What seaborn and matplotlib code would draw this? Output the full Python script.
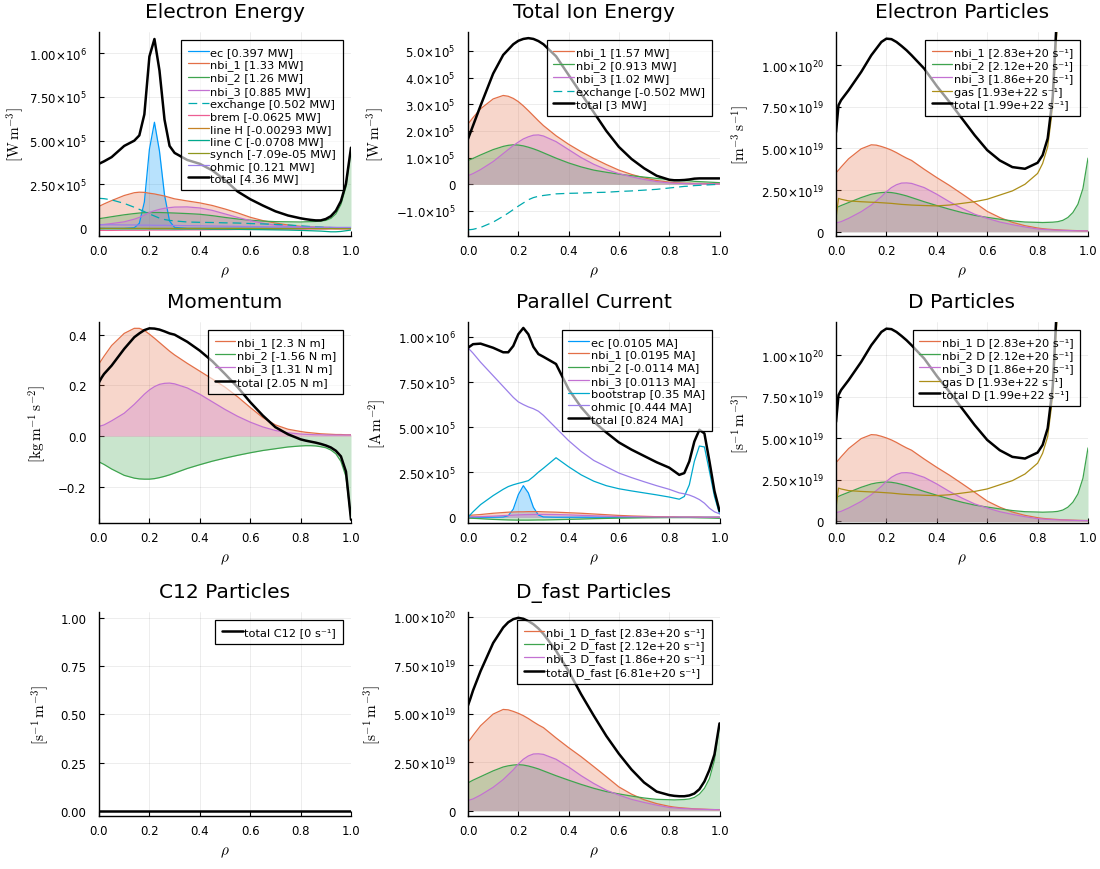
import numpy as np
import matplotlib
matplotlib.use("Agg")
import matplotlib.pyplot as plt
import seaborn as sns

# radial grid (rho) shared by all profiles
rho = np.array([0.0, 0.01, 0.02, 0.05, 0.1, 0.14, 0.16, 0.18, 0.2,
                0.22, 0.24, 0.26, 0.28, 0.3, 0.35, 0.4, 0.45, 0.5,
                0.55, 0.6, 0.65, 0.7, 0.75, 0.8, 0.82, 0.84, 0.86,
                0.88, 0.9, 0.92, 0.94, 0.96, 0.98, 1.0])

# ---- Electron energy [1e5 W m^-3]
ee_ec = np.array([0, 0, 0, 0, 0, 0.03, 0.28, 1.5, 4.5,
                  6.05, 4.4, 1.9, 0.41, 0.05, 0, 0, 0, 0,
                  0, 0, 0, 0, 0, 0, 0, 0, 0,
                  0, 0, 0, 0, 0, 0, 0]) * 1e5
ee_nbi1 = np.array([1.25, 1.32, 1.39, 1.58, 1.87, 2.03, 2.06, 2.05, 2.0,
                    1.96, 1.9, 1.84, 1.76, 1.68, 1.56, 1.45, 1.3, 1.1,
                    0.88, 0.63, 0.44, 0.3, 0.19, 0.11, 0.09, 0.08, 0.07,
                    0.06, 0.05, 0.04, 0.04, 0.03, 0.03, 0.02]) * 1e5
ee_nbi2 = np.array([0.55, 0.57, 0.59, 0.66, 0.77, 0.84, 0.87, 0.89, 0.9,
                    0.9, 0.9, 0.89, 0.88, 0.87, 0.84, 0.8, 0.72, 0.62,
                    0.53, 0.46, 0.41, 0.38, 0.37, 0.36, 0.37, 0.38, 0.39,
                    0.41, 0.45, 0.56, 0.82, 1.35, 2.35, 4.45]) * 1e5
ee_nbi3 = np.array([0.2, 0.21, 0.22, 0.27, 0.37, 0.52, 0.62, 0.75, 0.9,
                    1.0, 1.08, 1.14, 1.18, 1.21, 1.22, 1.16, 1.02, 0.82,
                    0.62, 0.44, 0.29, 0.18, 0.11, 0.06, 0.05, 0.04, 0.03,
                    0.03, 0.02, 0.02, 0.02, 0.01, 0.01, 0.01]) * 1e5
ee_exchange = np.array([1.71, 1.7, 1.69, 1.62, 1.42, 1.2, 1.08, 0.95, 0.82,
                        0.7, 0.58, 0.5, 0.45, 0.42, 0.36, 0.34, 0.33, 0.31,
                        0.3, 0.27, 0.25, 0.22, 0.19, 0.14, 0.12, 0.1, 0.08,
                        0.07, 0.05, 0.04, 0.03, 0.02, 0.01, 0.01]) * 1e5
ee_brem = np.array([-0.12, -0.12, -0.12, -0.12, -0.11, -0.11, -0.11, -0.11, -0.1,
                    -0.1, -0.1, -0.1, -0.1, -0.1, -0.09, -0.09, -0.08, -0.08,
                    -0.07, -0.07, -0.06, -0.06, -0.05, -0.05, -0.05, -0.04, -0.04,
                    -0.04, -0.04, -0.03, -0.03, -0.03, -0.03, -0.03]) * 1e5
ee_line_h = np.array([-0.01, -0.01, -0.01, -0.01, -0.01, -0.01, -0.01, -0.01, -0.01,
                      -0.01, -0.01, -0.01, -0.01, -0.01, -0.01, -0.01, -0.01, -0.01,
                      -0.01, -0.01, -0.01, -0.01, -0.01, -0.01, -0.01, -0.01, -0.02,
                      -0.02, -0.02, -0.02, -0.03, -0.03, -0.03, -0.03]) * 1e5
ee_line_c = np.array([-0.03, -0.03, -0.03, -0.03, -0.03, -0.03, -0.03, -0.03, -0.03,
                      -0.03, -0.03, -0.03, -0.03, -0.04, -0.04, -0.04, -0.05, -0.05,
                      -0.06, -0.07, -0.08, -0.09, -0.1, -0.12, -0.13, -0.14, -0.15,
                      -0.16, -0.18, -0.2, -0.2, -0.18, -0.14, -0.1]) * 1e5
ee_synch = np.array([-0.001, -0.001, -0.001, -0.001, -0.001, -0.001, -0.001, -0.001, -0.001,
                     -0.001, -0.001, -0.001, -0.001, -0.001, -0.001, -0.001, -0.001, -0.001,
                     -0.001, -0.001, -0.001, -0.001, -0.001, -0.001, -0.001, -0.001, -0.001,
                     -0.001, -0.001, -0.001, -0.001, -0.001, -0.001, -0.001]) * 1e5
ee_ohmic = np.array([0.2, 0.2, 0.2, 0.2, 0.19, 0.19, 0.18, 0.18, 0.18,
                     0.17, 0.17, 0.17, 0.16, 0.16, 0.15, 0.14, 0.13, 0.12,
                     0.11, 0.1, 0.09, 0.08, 0.08, 0.07, 0.07, 0.07, 0.06,
                     0.06, 0.06, 0.06, 0.05, 0.05, 0.05, 0.05]) * 1e5
ee_total = np.array([3.68, 3.75, 3.82, 4.06, 4.7, 5.0, 5.3, 6.5, 9.8,
                     10.8, 9.0, 6.2, 4.7, 4.3, 3.9, 3.68, 3.3, 2.75,
                     2.1, 1.66, 1.3, 0.97, 0.73, 0.57, 0.52, 0.48, 0.45,
                     0.45, 0.53, 0.69, 1.0, 1.55, 2.55, 4.6]) * 1e5

# ---- Total ion energy [1e5 W m^-3]
ie_nbi1 = np.array([2.26, 2.38, 2.5, 2.83, 3.2, 3.33, 3.3, 3.22, 3.1,
                    2.94, 2.76, 2.57, 2.38, 2.2, 1.82, 1.5, 1.22, 0.97,
                    0.74, 0.53, 0.37, 0.24, 0.14, 0.08, 0.06, 0.05, 0.04,
                    0.04, 0.03, 0.03, 0.03, 0.02, 0.02, 0.02]) * 1e5
ie_nbi2 = np.array([0.89, 0.93, 0.97, 1.1, 1.3, 1.42, 1.46, 1.48, 1.47,
                    1.44, 1.39, 1.33, 1.26, 1.18, 0.98, 0.8, 0.65, 0.53,
                    0.45, 0.38, 0.32, 0.27, 0.22, 0.18, 0.16, 0.15, 0.14,
                    0.13, 0.11, 0.1, 0.09, 0.08, 0.07, 0.06]) * 1e5
ie_nbi3 = np.array([0.33, 0.36, 0.4, 0.55, 0.85, 1.15, 1.3, 1.45, 1.58,
                    1.7, 1.78, 1.84, 1.85, 1.81, 1.6, 1.3, 1.0, 0.75,
                    0.55, 0.4, 0.28, 0.18, 0.1, 0.05, 0.04, 0.03, 0.03,
                    0.02, 0.02, 0.02, 0.01, 0.01, 0.01, 0.01]) * 1e5
ie_exchange = -ee_exchange
ie_total = np.array([1.7, 1.95, 2.2, 2.95, 4.15, 4.85, 5.05, 5.25, 5.38,
                     5.45, 5.48, 5.45, 5.37, 5.25, 4.8, 4.1, 3.4, 2.7,
                     2.0, 1.4, 0.95, 0.6, 0.32, 0.17, 0.15, 0.15, 0.16,
                     0.18, 0.21, 0.22, 0.22, 0.22, 0.22, 0.22]) * 1e5

# ---- Particle sources [1e19 m^-3 s^-1]
p_nbi1 = np.array([3.53, 3.7, 3.88, 4.38, 4.98, 5.22, 5.2, 5.12, 5.02,
                   4.9, 4.75, 4.58, 4.42, 4.28, 3.75, 3.25, 2.78, 2.27,
                   1.75, 1.22, 0.85, 0.56, 0.36, 0.22, 0.18, 0.15, 0.13,
                   0.11, 0.09, 0.08, 0.07, 0.06, 0.05, 0.05]) * 1e19
p_nbi2 = np.array([1.43, 1.5, 1.57, 1.75, 2.05, 2.25, 2.31, 2.35, 2.37,
                   2.35, 2.3, 2.23, 2.15, 2.05, 1.8, 1.57, 1.35, 1.15,
                   0.98, 0.86, 0.75, 0.65, 0.58, 0.56, 0.55, 0.56, 0.57,
                   0.6, 0.68, 0.85, 1.15, 1.65, 2.6, 4.42]) * 1e19
p_nbi3 = np.array([0.52, 0.56, 0.6, 0.8, 1.2, 1.6, 1.85, 2.1, 2.4,
                   2.65, 2.82, 2.92, 2.93, 2.9, 2.65, 2.25, 1.8, 1.4,
                   1.05, 0.8, 0.58, 0.42, 0.28, 0.16, 0.14, 0.12, 0.1,
                   0.09, 0.08, 0.07, 0.06, 0.05, 0.05, 0.04]) * 1e19
p_gas = np.array([0.8, 2.0, 1.95, 1.85, 1.8, 1.77, 1.76, 1.74, 1.72,
                  1.7, 1.67, 1.64, 1.62, 1.6, 1.57, 1.55, 1.6, 1.7,
                  1.8, 1.95, 2.2, 2.45, 2.85, 3.5, 4.1, 5.1, 7.5,
                  13, 25, 50, 100, 200, 400, 800]) * 1e19
p_total = np.array([5.98, 7.6, 7.9, 8.5, 9.6, 10.6, 11.0, 11.4, 11.6,
                    11.57, 11.4, 11.16, 10.9, 10.6, 9.8, 8.75, 7.8, 6.8,
                    5.8, 4.9, 4.28, 3.88, 3.78, 4.14, 4.6, 5.6, 8.1,
                    14, 26, 51, 101, 202, 403, 805]) * 1e19
pf_total = np.array([5.43, 5.8, 6.2, 7.2, 8.65, 9.45, 9.72, 9.88, 9.95,
                     9.9, 9.78, 9.62, 9.4, 9.12, 8.25, 7.2, 6.0, 4.9,
                     3.85, 2.93, 2.12, 1.45, 0.98, 0.8, 0.76, 0.74, 0.74,
                     0.78, 0.88, 1.1, 1.5, 2.1, 2.9, 4.5]) * 1e19
c12_total = np.array([0.0] * 34)

# ---- Momentum [kg m^-1 s^-2]
m_nbi1 = np.array([0.285, 0.3, 0.315, 0.357, 0.405, 0.425, 0.425, 0.417, 0.402,
                   0.386, 0.369, 0.352, 0.335, 0.32, 0.287, 0.256, 0.225, 0.193,
                   0.155, 0.113, 0.073, 0.044, 0.027, 0.018, 0.015, 0.013, 0.011,
                   0.009, 0.008, 0.007, 0.006, 0.006, 0.005, 0.005])
m_nbi2 = np.array([-0.102, -0.107, -0.112, -0.13, -0.155, -0.166, -0.169, -0.17, -0.17,
                   -0.168, -0.164, -0.159, -0.153, -0.146, -0.128, -0.113, -0.099, -0.087,
                   -0.076, -0.066, -0.057, -0.05, -0.043, -0.039, -0.038, -0.038, -0.039,
                   -0.042, -0.046, -0.055, -0.07, -0.1, -0.16, -0.33])
m_nbi3 = np.array([0.038, 0.041, 0.044, 0.06, 0.09, 0.125, 0.145, 0.165, 0.182,
                   0.195, 0.204, 0.208, 0.209, 0.206, 0.19, 0.165, 0.135, 0.105,
                   0.078, 0.055, 0.036, 0.022, 0.013, 0.008, 0.007, 0.006, 0.005,
                   0.005, 0.004, 0.004, 0.004, 0.004, 0.004, 0.004])
m_total = np.array([0.212, 0.23, 0.245, 0.278, 0.344, 0.39, 0.405, 0.418, 0.425,
                    0.424, 0.42, 0.413, 0.405, 0.4, 0.372, 0.337, 0.295, 0.245,
                    0.193, 0.134, 0.081, 0.035, 0.007, -0.013, -0.018, -0.022, -0.026,
                    -0.031, -0.037, -0.045, -0.058, -0.08, -0.14, -0.33])

# ---- Parallel current [1e5 A m^-2]
c_ec = np.array([0, 0, 0, 0, 0, 0.01, 0.08, 0.45, 1.25,
                 1.75, 1.35, 0.55, 0.12, 0.015, 0, 0, 0, 0,
                 0, 0, 0, 0, 0, 0, 0, 0, 0,
                 0, 0, 0, 0, 0, 0, 0]) * 1e5
c_nbi1 = np.array([0.1, 0.11, 0.12, 0.15, 0.22, 0.26, 0.28, 0.29, 0.3,
                   0.3, 0.31, 0.31, 0.31, 0.3, 0.28, 0.25, 0.22, 0.18,
                   0.14, 0.1, 0.07, 0.05, 0.03, 0.02, 0.02, 0.01, 0.01,
                   0.01, 0.01, 0.01, 0.0, 0.0, 0.0, 0.0]) * 1e5
c_nbi2 = np.array([-0.05, -0.055, -0.06, -0.08, -0.12, -0.14, -0.15, -0.155, -0.16,
                   -0.16, -0.16, -0.155, -0.15, -0.15, -0.135, -0.12, -0.1, -0.08,
                   -0.065, -0.05, -0.04, -0.03, -0.025, -0.02, -0.02, -0.02, -0.02,
                   -0.02, -0.025, -0.03, -0.035, -0.04, -0.05, -0.06]) * 1e5
c_nbi3 = np.array([0.02, 0.02, 0.025, 0.035, 0.06, 0.09, 0.1, 0.115, 0.13,
                   0.14, 0.15, 0.155, 0.16, 0.16, 0.15, 0.13, 0.105, 0.08,
                   0.06, 0.04, 0.03, 0.02, 0.015, 0.01, 0.01, 0.01, 0.005,
                   0.005, 0.005, 0.0, 0.0, 0.0, 0.0, 0.0]) * 1e5
c_boot = np.array([0.0, 0.15, 0.3, 0.7, 1.2, 1.55, 1.7, 1.8, 1.88,
                   1.95, 2.03, 2.25, 2.5, 2.72, 3.3, 2.8, 2.35, 2.0,
                   1.75, 1.58, 1.46, 1.35, 1.24, 1.12, 1.06, 1.0, 1.15,
                   1.8, 3.1, 3.95, 3.9, 2.55, 1.15, 0.19]) * 1e5
c_ohmic = np.array([9.39, 9.25, 9.1, 8.6, 7.85, 7.25, 6.95, 6.65, 6.4,
                    6.25, 6.12, 6.02, 5.88, 5.65, 4.95, 4.25, 3.65, 3.15,
                    2.8, 2.45, 2.2, 1.97, 1.75, 1.55, 1.45, 1.35, 1.3,
                    1.23, 1.12, 0.98, 0.78, 0.5, 0.3, 0.19]) * 1e5
c_total = np.array([9.4, 9.5, 9.6, 9.63, 9.4, 9.15, 9.15, 9.5, 10.15,
                    10.5, 10.15, 9.45, 9.05, 8.9, 8.5, 7.1, 6.1, 5.3,
                    4.7, 4.15, 3.75, 3.4, 3.05, 2.75, 2.55, 2.35, 2.45,
                    3.1, 4.2, 4.85, 4.65, 3.1, 1.45, 0.35]) * 1e5

# legend labels
ee_labels = ["ec [0.397 MW]", "nbi_1 [1.33 MW]", "nbi_2 [1.26 MW]", "nbi_3 [0.885 MW]",
             "exchange [0.502 MW]", "brem [-0.0625 MW]", "line H [-0.00293 MW]",
             "line C [-0.0708 MW]", "synch [-7.09e-05 MW]", "ohmic [0.121 MW]",
             "total [4.36 MW]"]
ie_labels = ["nbi_1 [1.57 MW]", "nbi_2 [0.913 MW]", "nbi_3 [1.02 MW]",
             "exchange [-0.502 MW]", "total [3 MW]"]
ep_labels = ["nbi_1 [2.83e+20 s⁻¹]", "nbi_2 [2.12e+20 s⁻¹]", "nbi_3 [1.86e+20 s⁻¹]",
             "gas [1.93e+22 s⁻¹]", "total [1.99e+22 s⁻¹]"]
m_labels = ["nbi_1 [2.3 N m]", "nbi_2 [-1.56 N m]", "nbi_3 [1.31 N m]", "total [2.05 N m]"]
c_labels = ["ec [0.0105 MA]", "nbi_1 [0.0195 MA]", "nbi_2 [-0.0114 MA]", "nbi_3 [0.0113 MA]",
            "bootstrap [0.35 MA]", "ohmic [0.444 MA]", "total [0.824 MA]"]
dp_labels = ["nbi_1 D [2.83e+20 s⁻¹]", "nbi_2 D [2.12e+20 s⁻¹]", "nbi_3 D [1.86e+20 s⁻¹]",
             "gas D [1.93e+22 s⁻¹]", "total D [1.99e+22 s⁻¹]"]
c12_labels = ["total C12 [0 s⁻¹]"]
df_labels = ["nbi_1 D_fast [2.83e+20 s⁻¹]", "nbi_2 D_fast [2.12e+20 s⁻¹]",
             "nbi_3 D_fast [1.86e+20 s⁻¹]", "total D_fast [6.81e+20 s⁻¹]"]

# tick positions and labels
tk_1e5_2p5 = [0, 2.5e5, 5e5, 7.5e5, 1e6]
tl_1e5_2p5 = ["0", r"$2.50{\times}10^{5}$", r"$5.00{\times}10^{5}$",
              r"$7.50{\times}10^{5}$", r"$1.00{\times}10^{6}$"]
tk_ion = [-1e5, 0, 1e5, 2e5, 3e5, 4e5, 5e5]
tl_ion = [r"$-1.0{\times}10^{5}$", "0", r"$1.0{\times}10^{5}$", r"$2.0{\times}10^{5}$",
          r"$3.0{\times}10^{5}$", r"$4.0{\times}10^{5}$", r"$5.0{\times}10^{5}$"]
tk_part = [0, 2.5e19, 5e19, 7.5e19, 1e20]
tl_part = ["0", r"$2.50{\times}10^{19}$", r"$5.00{\times}10^{19}$",
           r"$7.50{\times}10^{19}$", r"$1.00{\times}10^{20}$"]

# Plots.jl default palette
C_EC, C_N1, C_N2, C_N3 = "#009AFA", "#E36F47", "#3EA44E", "#C371D2"
C_GAS, C_EXC, C_BREM, C_LH = "#AC8E18", "#00AAAE", "#ED5E93", "#C68225"
C_LC, C_SYN, C_BS, C_OHM = "#00A98D", "#8E971D", "#00A9CD", "#9B7FE9"

sns.set_theme(style="white")
plt.rcParams["font.family"] = ["DejaVu Sans"]
plt.rcParams["axes.unicode_minus"] = True
plt.rcParams["text.color"] = "black"
plt.rcParams["axes.labelcolor"] = "black"
plt.rcParams["axes.titlecolor"] = "black"

fig = plt.figure(figsize=(11, 8.7), dpi=100)
W, H = 1100, 870


def panel(left, top, right, bottom):
    return fig.add_axes([left / W, 1 - bottom / H, (right - left) / W, (bottom - top) / H])


def draw(ax, y, color, label, fill=False, lw=0.9, ls="-"):
    if fill:
        ax.fill_between(rho, 0, y, color=color, alpha=0.28, lw=0)
    sns.lineplot(x=rho, y=y, ax=ax, color=color, lw=lw, linestyle=ls,
                 label=label, legend=False, errorbar=None, sort=False)


def style(ax, title, ylabel, ylim, ticks=None, ticklabels=None, ylabelpad=7):
    ax.set_xlim(0, 1)
    ax.set_ylim(*ylim)
    ax.set_xticks([0.0, 0.2, 0.4, 0.6, 0.8, 1.0])
    ax.set_xticklabels(["0.0", "0.2", "0.4", "0.6", "0.8", "1.0"])
    if ticks is not None:
        ax.set_yticks(ticks)
        ax.set_yticklabels(ticklabels)
    ax.grid(True, color="black", alpha=0.1, lw=0.5)
    for s in ["top", "right"]:
        ax.spines[s].set_visible(False)
    for s in ["left", "bottom"]:
        ax.spines[s].set_color("black")
        ax.spines[s].set_linewidth(1.0)
    ax.tick_params(axis="both", direction="in", length=3.5, width=0.8,
                   labelsize=8.5, colors="black", left=True, bottom=True)
    ax.tick_params(axis="y", pad=9)
    ax.tick_params(axis="x", pad=6)
    ax.set_title(title, fontsize=14.5, pad=11, color="black")
    ax.set_xlabel(r"$\rho$", math_fontfamily="cm", fontsize=11, labelpad=5)
    ax.set_ylabel(ylabel, math_fontfamily="cm", fontsize=11, labelpad=ylabelpad)
    leg = ax.legend(loc="upper right", fontsize=8.2, handlelength=1.8, handletextpad=0.15,
                    labelspacing=0.21, borderpad=0.6, borderaxespad=0.7,
                    fancybox=False, frameon=True)
    for t in leg.get_texts():
        t.set_color("black")
    fr = leg.get_frame()
    fr.set_alpha(None)
    fr.set_facecolor((1, 1, 1, 0.6))
    fr.set_edgecolor("black")
    fr.set_linewidth(0.9)


X1, X2, X3 = (99, 351), (468, 719.5), (836, 1088)
R1, R2, R3 = (33, 237), (323, 524), (613, 817)

# Electron Energy
ax = panel(X1[0], R1[0], X1[1], R1[1])
ee_series = [ee_ec, ee_nbi1, ee_nbi2, ee_nbi3, ee_exchange, ee_brem, ee_line_h,
             ee_line_c, ee_synch, ee_ohmic]
ee_colors = [C_EC, C_N1, C_N2, C_N3, C_EXC, C_BREM, C_LH, C_LC, C_SYN, C_OHM]
for i, (y, c, lab) in enumerate(zip(ee_series, ee_colors, ee_labels)):
    draw(ax, y, c, lab, fill=i < 4, ls=(0, (7, 4)) if i == 4 else "-")
draw(ax, ee_total, "black", ee_labels[-1], lw=1.8)
style(ax, "Electron Energy", r"$[\mathrm{W\,m^{-3}}]$", (-0.44e5, 11.2e5), tk_1e5_2p5, tl_1e5_2p5,
      ylabelpad=2)

# Total Ion Energy
ax = panel(X2[0], R1[0], X2[1], R1[1])
for y, c, lab in zip([ie_nbi1, ie_nbi2, ie_nbi3], [C_N1, C_N2, C_N3], ie_labels):
    draw(ax, y, c, lab, fill=True)
draw(ax, ie_exchange, C_EXC, ie_labels[3], ls=(0, (7, 4)))
draw(ax, ie_total, "black", ie_labels[4], lw=1.8)
style(ax, "Total Ion Energy", r"$[\mathrm{W\,m^{-3}}]$", (-1.94e5, 5.71e5), tk_ion, tl_ion)

# Electron Particles
ax = panel(X3[0], R1[0], X3[1], R1[1])
for y, c, lab in zip([p_nbi1, p_nbi2, p_nbi3], [C_N1, C_N2, C_N3], ep_labels):
    draw(ax, y, c, lab, fill=True)
draw(ax, p_gas, C_GAS, ep_labels[3])
draw(ax, p_total, "black", ep_labels[4], lw=1.8)
style(ax, "Electron Particles", r"$[\mathrm{m^{-3}\,s^{-1}}]$", (-0.26e19, 1.2e20), tk_part, tl_part)

# Momentum
ax = panel(X1[0], R2[0], X1[1], R2[1])
for y, c, lab in zip([m_nbi1, m_nbi2, m_nbi3], [C_N1, C_N2, C_N3], m_labels):
    draw(ax, y, c, lab, fill=True)
draw(ax, m_total, "black", m_labels[3], lw=1.8)
style(ax, "Momentum", r"$[\mathrm{kg\,m^{-1}\,s^{-2}}]$", (-0.343, 0.45),
      [-0.2, 0.0, 0.2, 0.4], ["−0.2", "0.0", "0.2", "0.4"])

# Parallel Current
ax = panel(X2[0], R2[0], X2[1], R2[1])
for y, c, lab in zip([c_ec, c_nbi1, c_nbi2, c_nbi3], [C_EC, C_N1, C_N2, C_N3], c_labels):
    draw(ax, y, c, lab, fill=True)
draw(ax, c_boot, C_BS, c_labels[4])
draw(ax, c_ohmic, C_OHM, c_labels[5])
draw(ax, c_total, "black", c_labels[6], lw=1.8)
style(ax, "Parallel Current", r"$[\mathrm{A\,m^{-2}}]$", (-0.32e5, 10.83e5), tk_1e5_2p5, tl_1e5_2p5)

# D Particles
ax = panel(X3[0], R2[0], X3[1], R2[1])
for y, c, lab in zip([p_nbi1, p_nbi2, p_nbi3], [C_N1, C_N2, C_N3], dp_labels):
    draw(ax, y, c, lab, fill=True)
draw(ax, p_gas, C_GAS, dp_labels[3])
draw(ax, p_total, "black", dp_labels[4], lw=1.8)
style(ax, "D Particles", r"$[\mathrm{s^{-1}\,m^{-3}}]$", (-0.1e19, 1.2e20), tk_part, tl_part)

# C12 Particles
ax = panel(X1[0], R3[0], X1[1], R3[1])
draw(ax, c12_total, "black", c12_labels[0], lw=1.8)
style(ax, "C12 Particles", r"$[\mathrm{s^{-1}\,m^{-3}}]$", (-0.028, 1.033),
      [0, 0.25, 0.5, 0.75, 1.0], ["0.00", "0.25", "0.50", "0.75", "1.00"])

# D_fast Particles
ax = panel(X2[0], R3[0], X2[1], R3[1])
for y, c, lab in zip([p_nbi1, p_nbi2, p_nbi3], [C_N1, C_N2, C_N3], df_labels):
    draw(ax, y, c, lab, fill=True)
draw(ax, pf_total, "black", df_labels[3], lw=1.8)
style(ax, "D_fast Particles", r"$[\mathrm{s^{-1}\,m^{-3}}]$", (-0.28e19, 1.025e20), tk_part, tl_part)

fig.savefig("out.png", dpi=100, facecolor="white")
